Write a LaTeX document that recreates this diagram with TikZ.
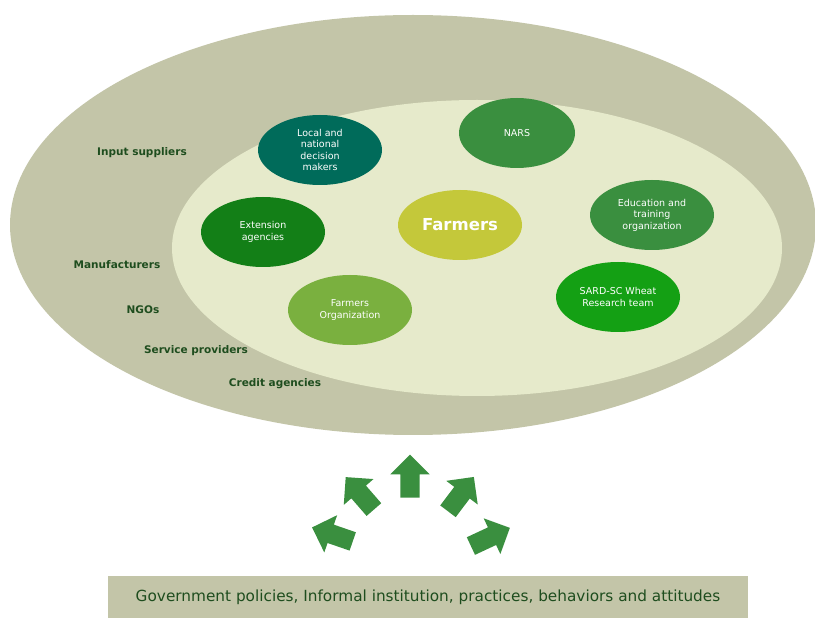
\documentclass[tikz,border=0pt]{standalone}
\usepackage{fontspec}
\setmainfont{DejaVu Sans}
\usetikzlibrary{shapes.geometric,shapes.arrows}
\definecolor{outerc}{HTML}{C3C5A8}
\definecolor{innerc}{HTML}{E6EACB}
\definecolor{teal}{HTML}{006B5A}
\definecolor{midg}{HTML}{3A8F3F}
\definecolor{darkg}{HTML}{137F17}
\definecolor{yellg}{HTML}{C4C83A}
\definecolor{lightg}{HTML}{7AB03F}
\definecolor{brightg}{HTML}{14A014}
\definecolor{txtg}{HTML}{1E4D1E}
\begin{document}
\begin{tikzpicture}[x=1pt,y=-1pt,
  actor/.style={ellipse,inner sep=0pt,minimum width=124pt,minimum height=70pt,text=white,font=\fontsize{9.5}{11.5}\selectfont,align=center},
  band/.style={text=txtg,font=\bfseries\fontsize{10.5}{12}\selectfont,inner sep=0pt},
  blockarrow/.style={single arrow,fill=midg,draw=none,minimum height=43pt,inner xsep=0pt,inner ysep=9.5pt,single arrow head extend=10pt}]
\useasboundingbox (0,0) rectangle (815,620);
\node[ellipse,fill=outerc,minimum width=806pt,minimum height=420pt,inner sep=0pt] (outer) at (413,225) {};
\node[ellipse,fill=innerc,minimum width=610pt,minimum height=296pt,inner sep=0pt] (inner) at (477,248) {};
\node[actor,fill=teal] (local) at (320,150) {Local and\\national\\decision\\makers};
\node[actor,fill=midg,minimum width=116pt] (nars) at (517,133) {NARS};
\node[actor,fill=midg] (edu) at (652,215) {Education and\\training\\organization};
\node[actor,fill=darkg] (ext) at (263,232) {Extension\\agencies};
\node[actor,fill=yellg,font=\bfseries\fontsize{16.5}{18}\selectfont] (farmers) at (460,225) {Farmers};
\node[actor,fill=lightg] (forg) at (350,310) {Farmers\\Organization};
\node[actor,fill=brightg] (sard) at (618,297) {SARD-SC Wheat\\Research team};
\node[band] (input) at (142,153) {Input suppliers};
\node[band] (manu) at (117,265) {Manufacturers};
\node[band] (ngo) at (143,310) {NGOs};
\node[band] (serv) at (196,351) {Service providers};
\node[band] (cred) at (275,384) {Credit agencies};
\node[blockarrow,rotate=161] (a1) at (337,536) {};
\node[blockarrow,rotate=131] (a2) at (363,497) {};
\node[blockarrow,rotate=90] (a3) at (410,481) {};
\node[blockarrow,rotate=53] (a4) at (458,498) {};
\node[blockarrow,rotate=25] (a5) at (486,539) {};
\node[fill=outerc,minimum width=640pt,minimum height=42pt,inner sep=0pt,text=txtg,font=\fontsize{15.3}{17}\selectfont] (gov) at (428,597) {Government policies, Informal institution, practices, behaviors and attitudes};
\end{tikzpicture}
\end{document}
